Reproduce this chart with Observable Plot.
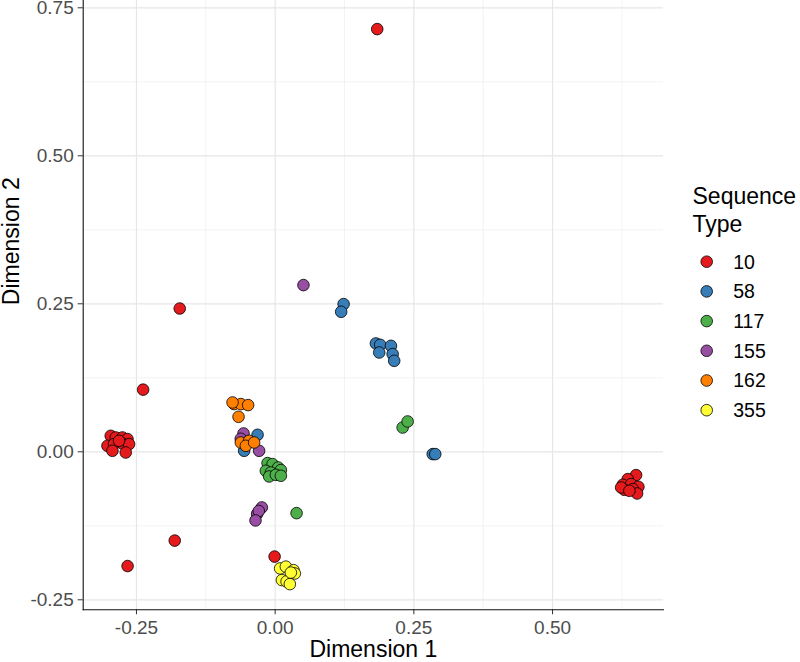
<!DOCTYPE html>
<html>
<head>
<meta charset="utf-8">
<script src="https://cdn.jsdelivr.net/npm/d3@7"></script>
<script src="https://cdn.jsdelivr.net/npm/@observablehq/plot@0.6"></script>
<style>
  html, body { margin: 0; padding: 0; background: #fff; }
  #wrap { position: relative; width: 800px; height: 662px; font-family: "Liberation Sans", Arial, sans-serif; }
  #wrap svg { display: block; }
  #legend { position: absolute; left: 0; top: 0; pointer-events: none; }
</style>
</head>
<body>
<div id="wrap"></div>
<script>
// Categories and colours
const categories = ["10", "58", "117", "155", "162", "355"];
const colors = ["#E41A1C", "#377EB8", "#4DAF4A", "#984EA3", "#FF7F00", "#FFFF33"];

// Points per sequence type: [Dimension 1, Dimension 2]
const st10 = [
  [0.184, 0.714], [-0.172, 0.242], [-0.238, 0.105], [-0.181, -0.150], [-0.266, -0.193], [-0.001, -0.177],
  [-0.2964, 0.027], [-0.2873, 0.0242], [-0.2753, 0.0242], [-0.2662, 0.0215], [-0.3023, 0.0101],
  [-0.2904, 0.013], [-0.2753, 0.014], [-0.2633, 0.013], [-0.2933, 0.0017], [-0.2693, -0.0012], [-0.2814, 0.0186],
  [0.6506, -0.0394], [0.6356, -0.0461], [0.6266, -0.0557], [0.6416, -0.0546], [0.6548, -0.0591],
  [0.6295, -0.0642], [0.6236, -0.0603], [0.6447, -0.063], [0.6524, -0.0704], [0.6385, -0.0659]
];
const st58 = [
  [0.1234, 0.2495], [0.119, 0.2365],
  [0.1816, 0.183], [0.1894, 0.1807], [0.1876, 0.1677], [0.2087, 0.179], [0.2118, 0.165], [0.2146, 0.1537],
  [0.284, -0.0039], [0.2886, -0.0039],
  [-0.0317, 0.0287], [-0.0559, 0.0017]
];
const st117 = [
  [0.0386, -0.1036], [0.2298, 0.041], [0.2388, 0.0512],
  [-0.0137, -0.0191], [-0.0047, -0.0208], [0.0054, -0.0265], [0.0103, -0.0309], [-0.0168, -0.0321],
  [-0.0078, -0.035], [-0.0108, -0.0417], [0.0013, -0.0389], [0.0103, -0.0405]
];
const st155 = [
  [0.051, 0.2816], [-0.024, -0.094], [-0.0325, -0.105], [-0.0295, -0.100], [-0.0354, -0.116],
  [-0.057, 0.031], [-0.0289, 0.0017], [-0.062, 0.022]
];
const st162 = [
  [-0.074, 0.0806], [-0.0619, 0.0806], [-0.0487, 0.0789], [-0.066, 0.0591], [-0.0768, 0.0833],
  [-0.0619, 0.0157], [-0.0469, 0.0186], [-0.0528, 0.0101], [-0.0379, 0.0157]
];
const st355 = [
  [0.009, -0.197], [0.0193, -0.194], [0.0332, -0.200], [0.0355, -0.2056], [0.0121, -0.2167],
  [0.0206, -0.219], [0.0265, -0.2235], [0.0283, -0.204]
];

// Axis ticks
const xTicks = [-0.25, 0, 0.25, 0.5];
const yTicks = [-0.25, 0, 0.25, 0.5, 0.75];
const xMinor = [-0.125, 0.125, 0.375, 0.625];
const yMinor = [-0.125, 0.125, 0.375, 0.625];
const xLabel = "Dimension 1";
const yLabel = "Dimension 2";
const legendTitle = ["Sequence", "Type"];

const groups = [st10, st58, st117, st155, st162, st355];
const data = groups.flatMap((g, i) => g.map(([x, y]) => ({x, y, type: categories[i]})));

const fmt = d => d.toFixed(2);

const chart = Plot.plot({
  width: 800,
  height: 662,
  marginLeft: 82.7,
  marginRight: 137,
  marginTop: 0,
  marginBottom: 52.7,
  style: {fontFamily: "'Liberation Sans', Arial, sans-serif", background: "#fff", overflow: "visible"},
  x: {domain: [-0.346, 0.70]},
  y: {domain: [-0.2669, 0.7623]},
  color: {domain: categories, range: colors},
  marks: [
    Plot.gridX(xMinor, {stroke: "#ebebeb", strokeOpacity: 1, strokeWidth: 0.6}),
    Plot.gridY(yMinor, {stroke: "#ebebeb", strokeOpacity: 1, strokeWidth: 0.6}),
    Plot.gridX(xTicks, {stroke: "#e6e6e6", strokeOpacity: 1, strokeWidth: 1.2}),
    Plot.gridY(yTicks, {stroke: "#e6e6e6", strokeOpacity: 1, strokeWidth: 1.2}),
    Plot.axisX(xTicks, {tickSize: 5, tickPadding: 5.5, tickFormat: fmt, fontSize: 19, fill: "#4d4d4d", stroke: "#333", label: null}),
    Plot.axisY(yTicks, {tickSize: 5, tickPadding: 4.5, tickFormat: fmt, fontSize: 19, fill: "#4d4d4d", stroke: "#333", label: null}),
    Plot.frame({anchor: "left", stroke: "#111", strokeWidth: 1.1}),
    Plot.frame({anchor: "bottom", stroke: "#111", strokeWidth: 1.1}),
    Plot.text([xLabel], {frameAnchor: "bottom", dy: 40, fontSize: 23, fill: "#000", lineAnchor: "middle"}),
    Plot.text([yLabel], {frameAnchor: "left", dx: -72, rotate: -90, fontSize: 23, fill: "#000", lineAnchor: "middle"}),
    Plot.dot(data, {x: "x", y: "y", fill: "type", stroke: "#000", strokeWidth: 0.8, r: 5.8, clip: false})
  ]
});

const wrap = document.getElementById("wrap");
wrap.appendChild(chart);

// Legend overlay
const leg = d3.select(wrap).append("svg")
  .attr("id", "legend").attr("width", 800).attr("height", 662)
  .style("font-family", "'Liberation Sans', Arial, sans-serif");
leg.selectAll("text.title").data(legendTitle).join("text")
  .attr("class", "title")
  .attr("x", 692.5).attr("y", (d, i) => 204 + i * 27.5)
  .attr("font-size", 23).attr("fill", "#000").text(d => d);
const items = leg.selectAll("g.item").data(categories).join("g")
  .attr("class", "item")
  .attr("transform", (d, i) => `translate(706.7,${261.7 + i * 29.7})`);
items.append("circle").attr("r", 5.8).attr("fill", (d, i) => colors[i]).attr("stroke", "#000").attr("stroke-width", 0.8);
items.append("text").attr("x", 26.5).attr("dy", "0.35em").attr("font-size", 19.5).attr("fill", "#000").text(d => d);
</script>
</body>
</html>
